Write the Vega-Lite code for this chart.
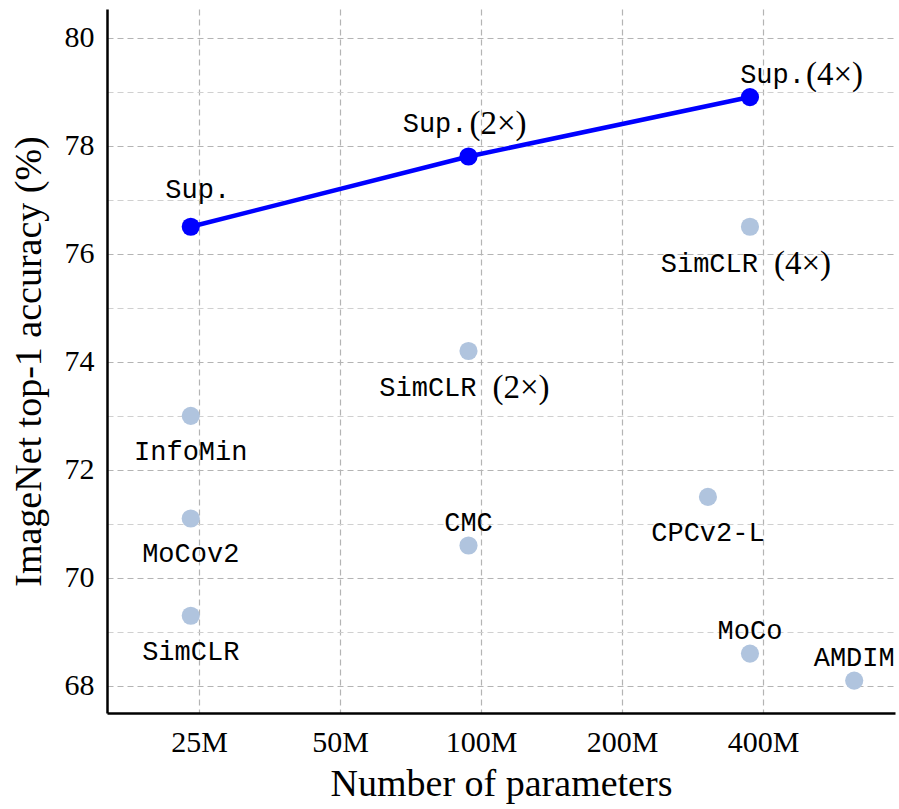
{
  "$schema": "https://vega.github.io/schema/vega-lite/v6.json",
  "width": 788,
  "height": 704,
  "autosize": "none",
  "padding": {"left": 107, "top": 9, "right": 4, "bottom": 96},
  "background": "white",
  "config": {
    "view": {"stroke": null},
    "font": "Liberation Serif",
    "axis": {
      "domainColor": "black",
      "domainWidth": 2.5,
      "labelFont": "Liberation Serif",
      "labelFontSize": 30,
      "labelColor": "black",
      "titleFont": "Liberation Serif",
      "titleFontSize": 38,
      "titleFontWeight": "normal",
      "titleColor": "black",
      "gridColor": "#b4b4b4",
      "gridDash": [6, 4],
      "gridWidth": 1.2,
      "tickSize": 0
    }
  },
  "data": {
    "values": [
      {"label": "Sup.", "name": "Sup.", "suffix": "", "group": "sup", "params": 24, "acc": 76.5},
      {"label": "Sup.(2×)", "name": "Sup.", "suffix": "(2×)", "group": "sup", "params": 94, "acc": 77.8},
      {"label": "Sup.(4×)", "name": "Sup.", "suffix": "(4×)", "group": "sup", "params": 375, "acc": 78.9},
      {"label": "SimCLR (4×)", "name": "SimCLR", "suffix": "(4×)", "group": "ssl", "params": 375, "acc": 76.5},
      {"label": "SimCLR (2×)", "name": "SimCLR", "suffix": "(2×)", "group": "ssl", "params": 94, "acc": 74.2},
      {"label": "InfoMin", "name": "InfoMin", "suffix": "", "group": "ssl", "params": 24, "acc": 73.0},
      {"label": "MoCov2", "name": "MoCov2", "suffix": "", "group": "ssl", "params": 24, "acc": 71.1},
      {"label": "SimCLR", "name": "SimCLR", "suffix": "", "group": "ssl", "params": 24, "acc": 69.3},
      {"label": "CMC", "name": "CMC", "suffix": "", "group": "ssl", "params": 94, "acc": 70.6},
      {"label": "CPCv2-L", "name": "CPCv2-L", "suffix": "", "group": "ssl", "params": 305, "acc": 71.5},
      {"label": "MoCo", "name": "MoCo", "suffix": "", "group": "ssl", "params": 375, "acc": 68.6},
      {"label": "AMDIM", "name": "AMDIM", "suffix": "", "group": "ssl", "params": 626, "acc": 68.1}
    ]
  },
  "encoding": {
    "x": {
      "field": "params",
      "type": "quantitative",
      "scale": {"type": "log", "domain": [15.9, 765], "nice": false},
      "axis": {
        "title": "Number of parameters",
        "values": [25, 50, 100, 200, 400],
        "labelExpr": "datum.value + 'M'",
        "labelPadding": 14,
        "titlePadding": 8
      }
    },
    "y": {
      "field": "acc",
      "type": "quantitative",
      "scale": {"domain": [67.5, 80.53], "nice": false, "zero": false},
      "axis": {
        "title": "ImageNet top-1 accuracy (%)",
        "values": [68, 69, 70, 71, 72, 73, 74, 75, 76, 77, 78, 79, 80],
        "labelExpr": "datum.value % 2 == 0 ? datum.label : ''",
        "labelPadding": 13,
        "titlePadding": 16,
        "gridColor": {"condition": {"test": "datum.value % 2 == 1", "value": "#d0d0d0"}, "value": "#b4b4b4"}
      }
    }
  },
  "layer": [
    {
      "transform": [{"filter": "datum.group == 'sup'"}],
      "mark": {"type": "line", "color": "#0000ff", "strokeWidth": 4.5}
    },
    {
      "mark": {"type": "circle", "size": 330, "opacity": 1},
      "encoding": {
        "color": {
          "field": "group",
          "type": "nominal",
          "scale": {"domain": ["sup", "ssl"], "range": ["#0000ff", "#b0c4de"]},
          "legend": null
        }
      }
    },
    {
      "transform": [{"filter": "indexof(['InfoMin','MoCov2','SimCLR','CPCv2-L'], datum.label) >= 0"}],
      "mark": {"type": "text", "font": "Liberation Mono", "fontSize": 27, "baseline": "middle", "align": "center", "color": "black", "dy": 36},
      "encoding": {"text": {"field": "name"}}
    },
    {
      "transform": [{"filter": "indexof(['CMC','MoCo','AMDIM'], datum.label) >= 0"}],
      "mark": {"type": "text", "font": "Liberation Mono", "fontSize": 27, "baseline": "middle", "align": "center", "color": "black", "dy": -23},
      "encoding": {"text": {"field": "name"}}
    },
    {
      "transform": [{"filter": "datum.label == 'Sup.'"}],
      "mark": {"type": "text", "font": "Liberation Mono", "fontSize": 27, "baseline": "middle", "align": "center", "color": "black", "dx": 7, "dy": -37},
      "encoding": {"text": {"field": "name"}}
    },
    {
      "transform": [{"filter": "datum.label == 'Sup.(2×)'"}],
      "mark": {"type": "text", "font": "Liberation Mono", "fontSize": 27, "baseline": "middle", "align": "right", "color": "black", "dx": -1, "dy": -32},
      "encoding": {"text": {"field": "name"}}
    },
    {
      "transform": [{"filter": "datum.label == 'Sup.(2×)'"}],
      "mark": {"type": "text", "font": "Liberation Serif", "fontSize": 33, "baseline": "middle", "align": "left", "color": "black", "dx": 1, "dy": -32},
      "encoding": {"text": {"field": "suffix"}}
    },
    {
      "transform": [{"filter": "datum.label == 'Sup.(4×)'"}],
      "mark": {"type": "text", "font": "Liberation Mono", "fontSize": 27, "baseline": "middle", "align": "right", "color": "black", "dx": 55, "dy": -22},
      "encoding": {"text": {"field": "name"}}
    },
    {
      "transform": [{"filter": "datum.label == 'Sup.(4×)'"}],
      "mark": {"type": "text", "font": "Liberation Serif", "fontSize": 33, "baseline": "middle", "align": "left", "color": "black", "dx": 56, "dy": -22},
      "encoding": {"text": {"field": "suffix"}}
    },
    {
      "transform": [{"filter": "datum.label == 'SimCLR (2×)' || datum.label == 'SimCLR (4×)'"}],
      "mark": {"type": "text", "font": "Liberation Mono", "fontSize": 27, "baseline": "middle", "align": "right", "color": "black", "dx": 8, "dy": 37},
      "encoding": {"text": {"field": "name"}}
    },
    {
      "transform": [{"filter": "datum.label == 'SimCLR (2×)' || datum.label == 'SimCLR (4×)'"}],
      "mark": {"type": "text", "font": "Liberation Serif", "fontSize": 33, "baseline": "middle", "align": "left", "color": "black", "dx": 24, "dy": 37},
      "encoding": {"text": {"field": "suffix"}}
    }
  ]
}
